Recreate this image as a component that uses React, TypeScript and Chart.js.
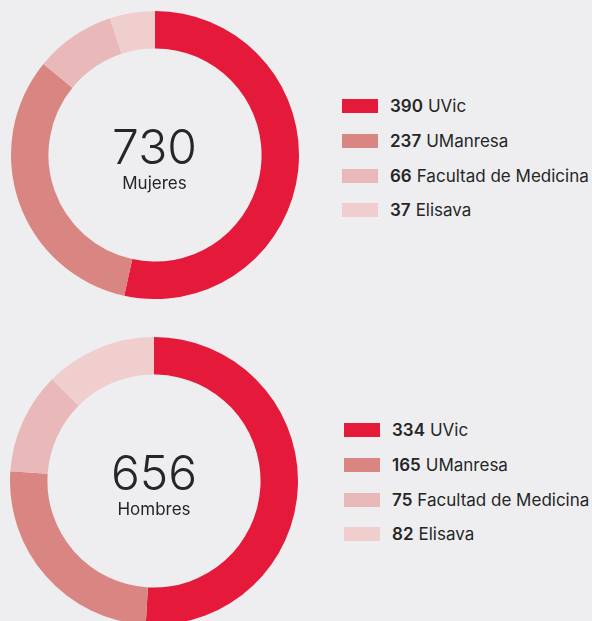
import React, { useEffect, useRef } from "react";
import { Chart, registerables } from "chart.js";

Chart.register(...registerables);

const categories = ["UVic", "UManresa", "Facultad de Medicina", "Elisava"];
const mujeresValues = [390, 237, 66, 37];
const hombresValues = [334, 165, 75, 82];
const groupLabels = ["Mujeres", "Hombres"];
const sliceColors = ["#E5193A", "#D98683", "#E9B9B9", "#F0CECD"];

const BG = "#EEEEF1";
const TEXT = "#262626";
const FONT = "Inter, 'Noto Sans', sans-serif";

type DonutProps = {
  values: number[];
  label: string;
  cx: number;
  cy: number;
  legendLeft: number;
  legendTop: number;
};

const R = 144;

function Donut({ values, label, cx, cy, legendLeft, legendTop }: DonutProps) {
  const ref = useRef<HTMLCanvasElement | null>(null);
  useEffect(() => {
    if (!ref.current) return;
    const chart = new Chart(ref.current, {
      type: "doughnut",
      data: {
        labels: categories,
        datasets: [
          {
            data: values,
            backgroundColor: sliceColors,
            borderWidth: 0,
            hoverOffset: 0,
          },
        ],
      },
      options: {
        responsive: false,
        animation: false,
        cutout: "74%",
        rotation: 0,
        layout: { padding: 0 },
        plugins: { legend: { display: false }, tooltip: { enabled: false } },
        events: [],
      },
    });
    return () => chart.destroy();
  }, [values]);

  const total = values.reduce((a, b) => a + b, 0);

  return (
    <>
      <canvas
        ref={ref}
        width={R * 2}
        height={R * 2}
        style={{ position: "absolute", left: cx - R, top: cy - R, width: R * 2, height: R * 2 }}
      />
      <div
        style={{
          position: "absolute",
          left: cx - 100,
          top: cy - 34,
          width: 200,
          textAlign: "center",
          color: TEXT,
          fontFamily: FONT,
          fontSize: 48,
          fontWeight: 300,
          lineHeight: "52px",
        }}
      >
        {total}
      </div>
      <div
        style={{
          position: "absolute",
          left: cx - 100,
          top: cy + 18,
          width: 200,
          textAlign: "center",
          color: TEXT,
          fontFamily: FONT,
          fontSize: 17,
          fontWeight: 400,
          lineHeight: "20px",
        }}
      >
        {label}
      </div>
      {categories.map((c, i) => (
        <div
          key={c}
          style={{
            position: "absolute",
            left: legendLeft,
            top: legendTop + i * 34.8 - 12,
            height: 24,
            display: "flex",
            alignItems: "center",
            fontFamily: FONT,
            fontSize: 17,
            color: TEXT,
            whiteSpace: "nowrap",
          }}
        >
          <span style={{ display: "inline-block", width: 36, height: 14, background: sliceColors[i], marginRight: 12 }} />
          <span style={{ fontWeight: 600 }}>{values[i]}</span>
          <span style={{ marginLeft: 5 }}>{c}</span>
        </div>
      ))}
    </>
  );
}

export default function App() {
  return (
    <div
      style={{
        position: "fixed",
        left: 0,
        top: 0,
        width: 592,
        height: 621,
        overflow: "hidden",
        background: BG,
      }}
    >
      <Donut values={mujeresValues} label={groupLabels[0]} cx={154.5} cy={155} legendLeft={342} legendTop={106} />
      <Donut values={hombresValues} label={groupLabels[1]} cx={154} cy={481} legendLeft={344} legendTop={430} />
    </div>
  );
}
